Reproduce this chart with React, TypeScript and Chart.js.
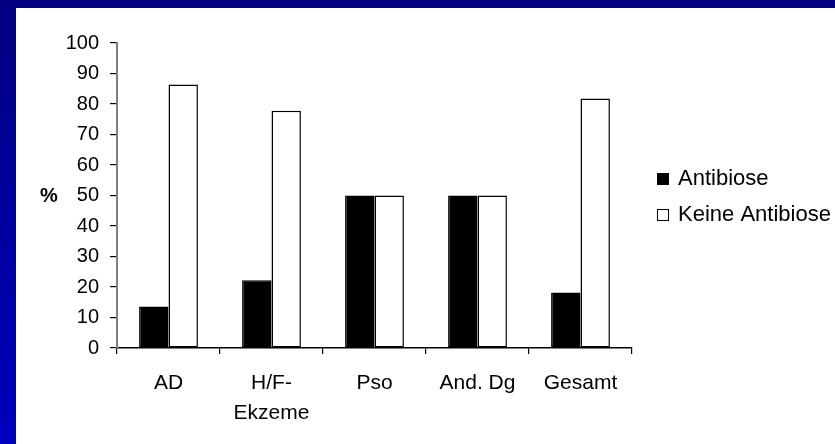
import { useEffect, useRef } from "react";
import { Chart, registerables } from "chart.js";

Chart.register(...registerables);

// Kategorien (Diagnosegruppen)
const categories: (string | string[])[] = ["AD", ["H/F-", "Ekzeme"], "Pso", "And. Dg", "Gesamt"];

// Anteile in Prozent
const antibiose = [13.6, 22.2, 50, 50, 18.2];
const keineAntibiose = [86.4, 77.8, 50, 50, 81.8];

const seriesNames = ["Antibiose", "Keine Antibiose"];
const seriesFill = ["#000000", "#ffffff"];

// Y-Achse
const yMin = 0;
const yMax = 100;
const yStep = 10;
const yTitle = "%";

const FONT = "'Liberation Sans', Arial, Helvetica, sans-serif";

// "%" horizontal links neben der Y-Achse
const yTitlePlugin = {
  id: "yTitle",
  afterDraw(chart: Chart) {
    const { ctx, chartArea } = chart;
    ctx.save();
    ctx.font = `bold 20px ${FONT}`;
    ctx.fillStyle = "#000";
    ctx.textAlign = "center";
    ctx.textBaseline = "middle";
    ctx.fillText(yTitle, 33, (chartArea.top + chartArea.bottom) / 2 + 1);
    ctx.restore();
  },
};

// Legende rechts neben dem Diagramm
const sideLegendPlugin = {
  id: "sideLegend",
  afterDraw(chart: Chart) {
    const { ctx, chartArea } = chart;
    const midY = (chartArea.top + chartArea.bottom) / 2;
    const boxX = chartArea.right + 25;
    const box = 12;
    const rowGap = 36;
    ctx.save();
    ctx.font = `22px ${FONT}`;
    ctx.textBaseline = "middle";
    ctx.textAlign = "left";
    chart.data.datasets.forEach((ds: any, i: number) => {
      const y = midY + (i - 0.5) * rowGap + 1.5;
      ctx.fillStyle = ds.backgroundColor;
      ctx.fillRect(boxX, y - box / 2, box, box);
      ctx.strokeStyle = "#000";
      ctx.lineWidth = 1;
      ctx.strokeRect(boxX + 0.5, y - box / 2 + 0.5, box - 1, box - 1);
      ctx.fillStyle = "#000";
      ctx.fillText(ds.label, boxX + box + 9, y);
    });
    ctx.restore();
  },
};

function BarChart() {
  const canvasRef = useRef<HTMLCanvasElement | null>(null);

  useEffect(() => {
    const canvas = canvasRef.current;
    if (!canvas) return;
    const chart = new Chart(canvas, {
      type: "bar",
      data: {
        labels: categories,
        datasets: [
          {
            label: seriesNames[0],
            data: antibiose,
            backgroundColor: seriesFill[0],
            borderColor: "#000",
            borderWidth: 1.5,
            borderSkipped: false,
          },
          {
            label: seriesNames[1],
            data: keineAntibiose,
            backgroundColor: seriesFill[1],
            borderColor: "#000",
            borderWidth: 1.5,
            borderSkipped: false,
          },
        ],
      },
      options: {
        responsive: false,
        animation: false,
        devicePixelRatio: 1,
        categoryPercentage: 0.571,
        barPercentage: 1,
        layout: { padding: { top: 35, right: 203, bottom: 0, left: 0 } },
        plugins: {
          legend: { display: false },
          tooltip: { enabled: false },
          title: { display: false },
        },
        scales: {
          x: {
            grid: {
              display: true,
              drawOnChartArea: false,
              drawTicks: true,
              tickLength: 6,
              tickColor: "#000",
              lineWidth: 1.2,
              offset: true,
            },
            border: { display: true, color: "#000", width: 1.5 },
            ticks: {
              color: "#000",
              font: { family: FONT, size: 21, lineHeight: 1.45 },
              padding: 14,
              maxRotation: 0,
              autoSkip: false,
            },
            afterFit(scale: any) {
              scale.height = 96;
            },
          },
          y: {
            min: yMin,
            max: yMax,
            grid: {
              display: true,
              drawOnChartArea: false,
              drawTicks: true,
              tickLength: 7,
              tickColor: "#000",
              lineWidth: 1.2,
            },
            border: { display: true, color: "#808080", width: 2 },
            ticks: {
              stepSize: yStep,
              color: "#000",
              font: { family: FONT, size: 20 },
              padding: 11,
            },
            afterFit(scale: any) {
              scale.width = 101;
            },
          },
        },
      },
      plugins: [yTitlePlugin, sideLegendPlugin],
    });
    return () => chart.destroy();
  }, []);

  return <canvas ref={canvasRef} width={819} height={436} style={{ display: "block" }} />;
}

export default function App() {
  return (
    <div
      style={{
        position: "fixed",
        inset: 0,
        background: "linear-gradient(180deg, #000080 0%, #0000c0 100%)",
        overflow: "hidden",
      }}
    >
      <div
        style={{
          position: "absolute",
          left: 16,
          top: 8,
          width: 819,
          height: 436,
          background: "#ffffff",
        }}
      >
        <BarChart />
      </div>
    </div>
  );
}
